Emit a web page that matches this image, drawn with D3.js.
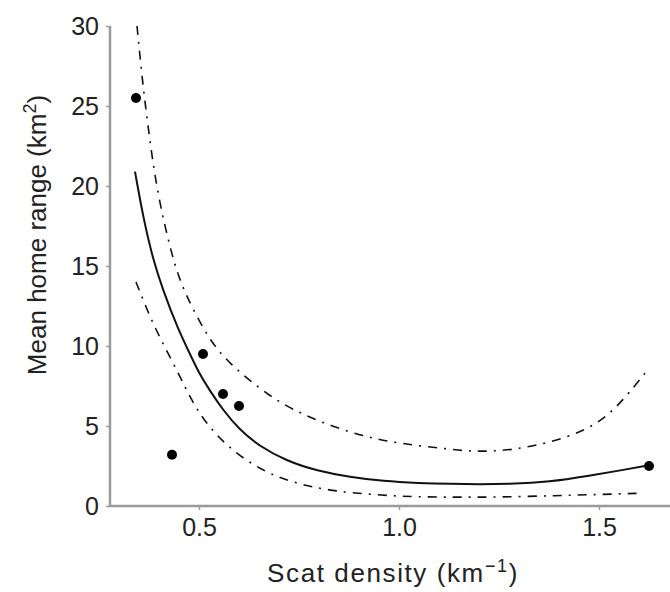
<!DOCTYPE html>
<html>
<head>
<meta charset="utf-8">
<script src="https://cdn.jsdelivr.net/npm/d3@7"></script>
<style>
  html, body { margin: 0; padding: 0; background: #fff; }
  svg { display: block; }
</style>
</head>
<body>
<div id="chart"></div>
<script>
// observed points
var obsX = [0.3425, 0.4325, 0.51, 0.56, 0.60, 1.625];
var obsY = [25.5, 3.2, 9.5, 7.0, 6.25, 2.5];

// fitted curve
var fitX = [0.34, 0.36, 0.385, 0.41, 0.445, 0.485, 0.5025, 0.5275, 0.56, 0.6, 0.65, 0.72, 0.795, 0.8775, 0.96, 1.05, 1.13, 1.2, 1.27, 1.3775, 1.4775, 1.56, 1.625];
var fitY = [20.9, 18.1, 15.4, 13.5, 11.2, 9.1, 8.2, 7.2, 6.0, 4.8, 3.75, 2.8, 2.2, 1.8, 1.55, 1.43, 1.38, 1.36, 1.38, 1.5, 1.9, 2.25, 2.55];

// upper confidence band
var upX = [0.345, 0.3575, 0.3725, 0.395, 0.4325, 0.46, 0.52, 0.57, 0.6775, 0.7525, 0.835, 0.92, 1.0025, 1.1275, 1.185, 1.25, 1.31, 1.42, 1.5025, 1.56, 1.615];
var upY = [30.0, 26.8, 23.7, 19.6, 15.6, 13.5, 10.6, 9.0, 6.8, 5.8, 4.95, 4.3, 3.9, 3.55, 3.4, 3.45, 3.6, 4.25, 5.2, 6.6, 8.3];

// lower confidence band
var loX = [0.3425, 0.36, 0.385, 0.415, 0.4525, 0.4775, 0.51, 0.57, 0.6525, 0.735, 0.835, 1.0025, 1.13, 1.25, 1.395, 1.5, 1.61];
var loY = [14.0, 12.9, 11.4, 9.9, 8.1, 6.8, 5.4, 3.7, 2.25, 1.45, 0.9, 0.58, 0.55, 0.55, 0.65, 0.72, 0.8];

var xTicks = [0.5, 1.0, 1.5];
var yTicks = [0, 5, 10, 15, 20, 25, 30];

var W = 670, H = 592;
var LEFT = 110, RIGHT = 665, TOP = 26, BOTTOM = 506;
var AXIS_COLOR = '#9a9a9a';
var TEXT_COLOR = '#222';
var FONT = '"Liberation Sans", Arial, sans-serif';

var svg = d3.select('#chart').append('svg')
  .attr('width', W)
  .attr('height', H)
  .style('font-family', FONT);

var x = d3.scaleLinear().domain([0.2775, 1.665]).range([LEFT, RIGHT]);
var y = d3.scaleLinear().domain([0, 30]).range([BOTTOM, TOP]);

// axes
var xAxis = svg.append('g')
  .attr('transform', 'translate(0,' + BOTTOM + ')')
  .call(d3.axisBottom(x).tickValues(xTicks).tickSize(4).tickPadding(8)
    .tickFormat(d3.format('.1f')));
var yAxis = svg.append('g')
  .attr('transform', 'translate(' + LEFT + ',0)')
  .call(d3.axisLeft(y).tickValues(yTicks).tickSize(4).tickPadding(7)
    .tickFormat(d3.format('d')));

[xAxis, yAxis].forEach(function(g) {
  g.select('.domain').attr('stroke', AXIS_COLOR).attr('stroke-width', 2.5);
  g.selectAll('.tick line').attr('stroke', AXIS_COLOR).attr('stroke-width', 1.5);
  g.selectAll('.tick text')
    .attr('fill', TEXT_COLOR)
    .style('font-family', FONT)
    .style('font-size', '25px');
});
// domain paths without the outer tick stubs
xAxis.select('.domain').attr('d', 'M' + LEFT + ',0H' + W);
yAxis.select('.domain').attr('d', 'M0,' + BOTTOM + 'V' + TOP);
xAxis.selectAll('.tick text').attr('dy', '0.71em');

// curves
function zipXY(xs, ys) {
  return xs.map(function(v, i) { return [v, ys[i]]; });
}
var line = d3.line()
  .x(function(d) { return x(d[0]); })
  .y(function(d) { return y(d[1]); })
  .curve(d3.curveBasis);

svg.append('path')
  .attr('d', line(zipXY(upX, upY)))
  .attr('fill', 'none')
  .attr('stroke', '#111')
  .attr('stroke-width', 1.6)
  .attr('stroke-dasharray', '9,7,2,7');

svg.append('path')
  .attr('d', line(zipXY(loX, loY)))
  .attr('fill', 'none')
  .attr('stroke', '#111')
  .attr('stroke-width', 1.6)
  .attr('stroke-dasharray', '9,7,2,7');

svg.append('path')
  .attr('d', line(zipXY(fitX, fitY)))
  .attr('fill', 'none')
  .attr('stroke', '#111')
  .attr('stroke-width', 2);

// points
svg.append('g').selectAll('circle')
  .data(zipXY(obsX, obsY))
  .join('circle')
  .attr('cx', function(d) { return x(d[0]); })
  .attr('cy', function(d) { return y(d[1]); })
  .attr('r', 5)
  .attr('fill', '#000');

// axis titles
var xt = svg.append('text')
  .attr('x', 393)
  .attr('y', 582)
  .attr('text-anchor', 'middle')
  .attr('fill', TEXT_COLOR)
  .style('font-size', '26px')
  .style('letter-spacing', '1.6px');
xt.append('tspan').text('Scat density (km');
xt.append('tspan').attr('baseline-shift', 'super').style('font-size', '18px').text('\u22121');
xt.append('tspan').text(')');

var yt = svg.append('text')
  .attr('transform', 'translate(46,235) rotate(-90)')
  .attr('text-anchor', 'middle')
  .attr('fill', TEXT_COLOR)
  .style('font-size', '26px');
yt.append('tspan').text('Mean home range (km');
yt.append('tspan').attr('baseline-shift', 'super').style('font-size', '18px').text('2');
yt.append('tspan').text(')');
</script>
</body>
</html>
